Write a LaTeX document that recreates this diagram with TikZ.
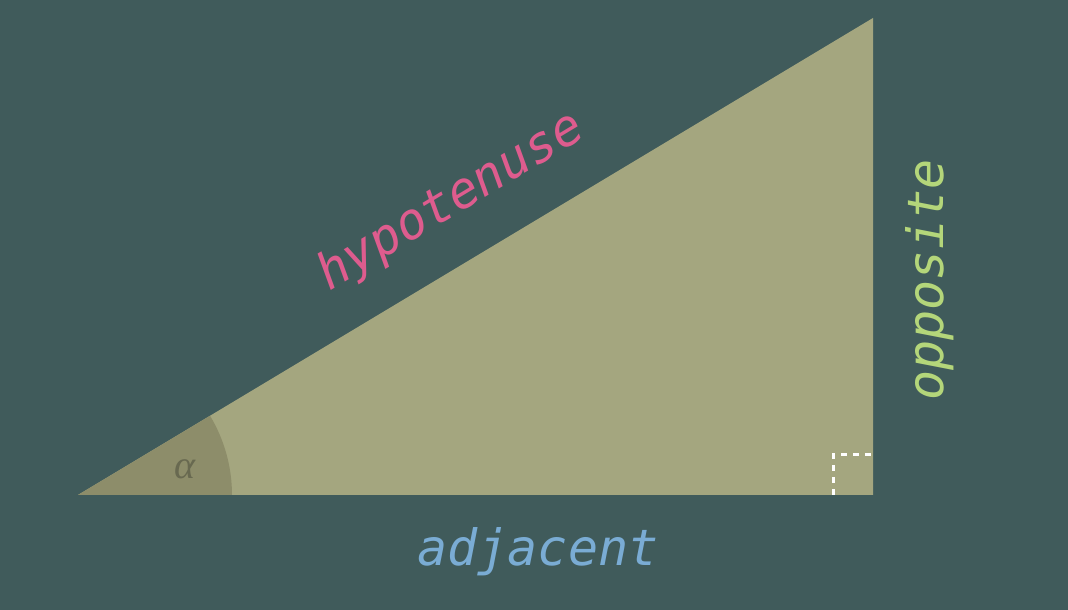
\documentclass[tikz,border=0pt]{standalone}
\usepackage{fontspec}
\setmonofont{DejaVu Sans Mono}
\newfontfamily\anglefont{Liberation Serif}
\usetikzlibrary{calc}
\definecolor{TrigBack}{RGB}{64,91,91}
\definecolor{TrigFill}{RGB}{164,166,127}
\definecolor{TrigArc}{RGB}{141,141,106}
\definecolor{TrigAlpha}{RGB}{104,105,80}
\definecolor{TrigPink}{RGB}{222,92,142}
\definecolor{TrigGreen}{RGB}{180,214,122}
\definecolor{TrigBlue}{RGB}{122,172,212}
\tikzset{
  trig/side/.style={
    font=\ttfamily\itshape\fontsize{50}{50}\selectfont,
    inner sep=0pt
  },
  trig/angle/.style={
    font=\anglefont\itshape\fontsize{40}{40}\selectfont,
    text=TrigAlpha,
    inner sep=0pt
  },
  trig/right/.style={draw=white, line width=3pt, dash pattern=on 6pt off 6pt}
}
\begin{document}
\begin{tikzpicture}[x=1pt,y=1pt]
  \fill[TrigBack] (0,0) rectangle (1068,610);
  \useasboundingbox (0,0) rectangle (1068,610);
  % corners of the triangle
  \coordinate (A) at (78,115);
  \coordinate (B) at (873,115);
  \coordinate (C) at (873,592);
  \fill[TrigFill] (A) -- (B) -- (C) -- cycle;
  % angle alpha
  \fill[TrigArc] (A) -- ++(154,0) arc[start angle=0, end angle=30.96, radius=154] -- cycle;
  \node[trig/angle] (alpha) at (185,141) {α};
  % right angle mark
  \draw[trig/right] ($(B)+(-40,0)$) -- ++(0,40) -- ++(40,0);
  % labels of the sides
  \node[trig/side, text=TrigPink, rotate=31] (hyp) at (451,408) {hypotenuse};
  \node[trig/side, text=TrigGreen, rotate=90] (opp) at (930,330) {opposite};
  \node[trig/side, text=TrigBlue] (adj) at (538,58) {adjacent};
\end{tikzpicture}
\end{document}
